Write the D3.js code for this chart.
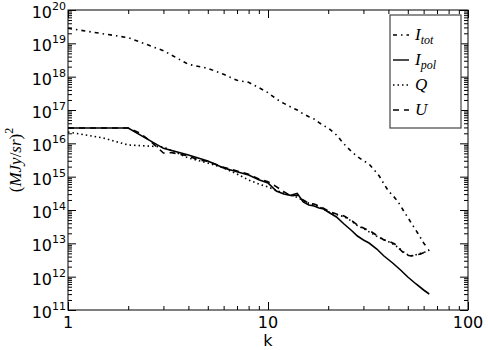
<!DOCTYPE html>
<html>
<meta charset="utf-8">
<head>
  <title>Power spectra</title>
</head>
<style>
  body { margin: 0; background: #fff; }
  text { font-family: "DejaVu Sans", sans-serif; }
  .math { font-family: "Liberation Serif", serif; }
</style>
<script src="https://d3js.org/d3.v7.min.js"></script>
<body>
<div id="chart"></div>
<script>

// values are log10 of the power
var kTot = [1, 2, 3, 4, 5, 6, 7, 8, 9, 10, 11, 12, 13, 14, 15, 16, 17, 18, 19, 20,
  22, 24, 26, 28, 30, 32, 34, 36, 38, 40, 42, 44, 46, 48, 50, 52, 54, 56, 58, 60, 63]
var iTot = [19.45, 19.17, 18.78, 18.37, 18.25, 18.07, 17.89, 17.83, 17.67, 17.52, 17.33, 17.2, 17.09, 17.0, 16.88, 16.8, 16.73, 16.62, 16.53, 16.46,
  16.25, 15.98, 15.77, 15.6, 15.48, 15.38, 15.2, 15.02, 14.78, 14.57, 14.44, 14.3, 14.13, 13.94, 13.78, 13.61, 13.46, 13.31, 13.16, 13.01, 12.85]

var kPol = [1, 2, 3, 4, 5, 6, 7, 8, 9, 10, 11, 12, 13, 14, 15, 16, 17, 18, 19, 20,
  22, 24, 26, 28, 30, 32, 35, 38, 42, 46, 50, 55, 60, 64]
var iPol = [16.46, 16.46, 15.85, 15.65, 15.47, 15.26, 15.15, 15.05, 14.91, 14.81, 14.57, 14.48, 14.44, 14.5, 14.24, 14.15, 14.12, 14.06, 14.03, 13.94,
  13.79, 13.58, 13.4, 13.22, 13.1, 13.01, 12.83, 12.62, 12.41, 12.2, 11.99, 11.78, 11.6, 11.48]

var kQ = [1, 1.5, 2, 2.5, 3, 4, 5, 6, 7, 8, 9, 10, 12, 14, 16, 18, 20, 22, 24, 26, 28, 30, 33, 36, 40, 43, 46, 49, 52, 55, 58, 61, 64]
var q = [16.34, 16.16, 15.95, 15.92, 15.89, 15.56, 15.41, 15.26, 15.08, 14.9, 14.78, 14.69, 14.5, 14.38, 14.2, 14.1, 13.95, 13.86, 13.8, 13.68, 13.53, 13.44, 13.3, 13.17, 13.05, 12.95, 12.82, 12.68, 12.63, 12.66, 12.7, 12.74, 12.8]

var kU = [1, 2, 2.3, 2.6, 3, 3.3, 4, 4.5, 5, 6, 7, 8, 9, 10, 11, 12, 13, 14, 15, 16, 17, 18, 19, 20,
  22, 24, 26, 28, 30, 33, 36, 38, 40, 43, 46, 49, 52, 55, 58, 61, 64]
var u = [16.46, 16.46, 16.3, 16.05, 15.71, 15.72, 15.62, 15.5, 15.46, 15.28, 15.17, 15.07, 14.93, 14.85, 14.7, 14.55, 14.42, 14.45, 14.3, 14.2, 14.18, 14.12, 14.05, 13.97,
  13.88, 13.82, 13.7, 13.55, 13.46, 13.34, 13.19, 13.1, 13.07, 12.98, 12.8, 12.65, 12.62, 12.65, 12.68, 12.74, 12.8]

var xMajor = [1, 10, 100]
var yExp = [11, 12, 13, 14, 15, 16, 17, 18, 19, 20]

var series = [
  {name: "tot", k: kTot, v: iTot, dash: "4,4,1.5,4"},
  {name: "pol", k: kPol, v: iPol, dash: null},
  {name: "Q", k: kQ, v: q, dash: "1.5,3"},
  {name: "U", k: kU, v: u, dash: "6,5"}
]

var width = 488, height = 350
var margin = {top: 10, right: 20, bottom: 40, left: 68}

var svg = d3.select("#chart").append("svg")
  .attr("width", width)
  .attr("height", height)

var x = d3.scaleLog().domain([1, 100]).range([margin.left, width - margin.right])
var y = d3.scaleLog().domain([1e11, 1e20]).range([height - margin.bottom, margin.top])

var x0 = x.range()[0], x1 = x.range()[1]
var y0 = y.range()[0], y1 = y.range()[1]

// minor tick positions
var xMinor = []
for (var d = 1; d < 100; d *= 10)
  for (var m = 2; m < 10; m++) xMinor.push(d * m)
var yMinor = []
for (var e = 11; e < 20; e++)
  for (var m = 2; m < 10; m++) yMinor.push(m * Math.pow(10, e))
var yMaj = yExp.map(function(e) { return Math.pow(10, e) })

// ticks, pointing inward on all four sides
function ticks(sel, vals, len) {
  sel.append("g").call(d3.axisBottom(x).tickValues(vals).tickSize(-len).tickFormat(""))
    .attr("transform", "translate(0," + y0 + ")")
  sel.append("g").call(d3.axisTop(x).tickValues(vals).tickSize(-len).tickFormat(""))
    .attr("transform", "translate(0," + y1 + ")")
}
function yticks(sel, vals, len) {
  sel.append("g").call(d3.axisLeft(y).tickValues(vals).tickSize(-len).tickFormat(""))
    .attr("transform", "translate(" + x0 + ",0)")
  sel.append("g").call(d3.axisRight(y).tickValues(vals).tickSize(-len).tickFormat(""))
    .attr("transform", "translate(" + x1 + ",0)")
}
var axes = svg.append("g")
ticks(axes, xMajor, 8)
ticks(axes, xMinor, 4)
yticks(axes, yMaj, 8)
yticks(axes, yMinor, 4)
axes.selectAll(".domain").remove()
axes.selectAll("line").attr("stroke", "#000").attr("stroke-width", 1)

// lines
var line = d3.line()
  .x(function(d) { return x(d[0]) })
  .y(function(d) { return y(Math.pow(10, d[1])) })

series.forEach(function(s) {
  svg.append("path")
    .datum(s.k.map(function(k, i) { return [k, s.v[i]] }))
    .attr("d", line)
    .attr("fill", "none")
    .attr("stroke", "#000")
    .attr("stroke-width", 1.6)
    .attr("stroke-dasharray", s.dash)
})

// frame
svg.append("rect")
  .attr("x", x0).attr("y", y1)
  .attr("width", x1 - x0).attr("height", y0 - y1)
  .attr("fill", "none").attr("stroke", "#000").attr("stroke-width", 1)

// x tick labels
svg.selectAll(".xl").data(xMajor).enter().append("text")
  .attr("x", function(d) { return x(d) })
  .attr("y", y0 + 18)
  .attr("text-anchor", "middle")
  .style("font-size", "16px")
  .text(function(d) { return d })

// y tick labels 10^e
var yl = svg.selectAll(".yl").data(yExp).enter().append("text")
  .attr("x", x0 - 2)
  .attr("y", function(d) { return y(Math.pow(10, d)) + 8 })
  .attr("text-anchor", "end")
  .style("font-size", "16px")
yl.append("tspan").text("10")
yl.append("tspan").attr("dy", -8).style("font-size", "11px").text(function(d) { return d })

// axis titles
svg.append("text")
  .attr("x", (x0 + x1) / 2)
  .attr("y", 346)
  .attr("text-anchor", "middle")
  .style("font-size", "16px")
  .text("k")

var yt = svg.append("text")
  .attr("class", "math")
  .attr("transform", "translate(21," + ((y0 + y1) / 2) + ") rotate(-90)")
  .attr("text-anchor", "middle")
  .style("font-size", "17px")
yt.append("tspan").text("(")
yt.append("tspan").style("font-style", "italic").text("MJy")
yt.append("tspan").text("/")
yt.append("tspan").style("font-style", "italic").text("sr")
yt.append("tspan").text(")")
yt.append("tspan").attr("dy", -8).style("font-size", "12px").text("2")

// legend
var lg = svg.append("g").attr("transform", "translate(390,15)")
lg.append("rect")
  .attr("width", 71).attr("height", 113)
  .attr("fill", "#fff").attr("stroke", "#444").attr("stroke-width", 1.2)

series.forEach(function(s, i) {
  var ly = 20 + i * 25
  lg.append("line")
    .attr("x1", 3).attr("x2", 19)
    .attr("y1", ly).attr("y2", ly)
    .attr("stroke", "#000").attr("stroke-width", 1.4)
    .attr("stroke-dasharray", s.dash)
  var t = lg.append("text")
    .attr("class", "math")
    .attr("x", 25).attr("y", ly + 5)
    .style("font-size", "17px")
    .style("font-style", "italic")
  if (s.name == "tot" || s.name == "pol") {
    t.append("tspan").text("I")
    t.append("tspan").attr("dy", 4).style("font-size", "12px").text(s.name)
  } else {
    t.text(s.name)
  }
})

</script>
</body>
</html>
